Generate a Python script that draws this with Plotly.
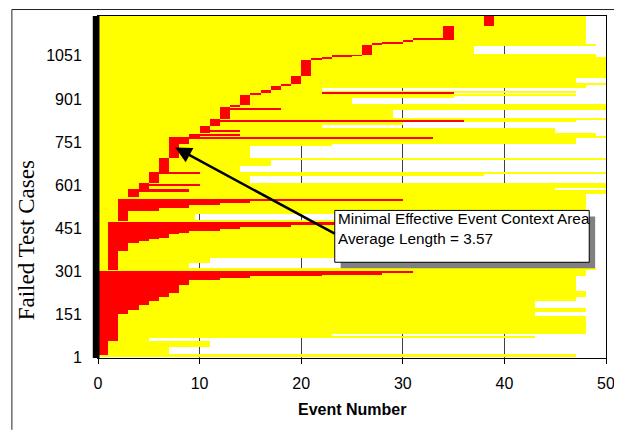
import plotly.graph_objects as go

# ---------------- data ----------------
# Yellow bars: whole test case length (events), by bands of failed test cases
yellow_lo = [1, 11, 35, 59, 70, 76, 83, 146, 157, 174, 198, 209, 233, 285, 303, 310, 330, 348,
             480, 501, 512, 571, 585, 592, 609, 633, 640, 647, 668, 689, 696, 738, 745, 766,
             773, 783, 800, 811, 821, 828, 835, 863, 884, 905, 912, 919, 922, 929, 940, 950,
             957, 974, 1047, 1058, 1086, 1093]
yellow_hi = [11, 35, 59, 70, 76, 83, 146, 157, 174, 198, 209, 233, 285, 303, 310, 330, 348, 480,
             501, 512, 571, 585, 592, 609, 633, 640, 647, 668, 689, 696, 738, 745, 766, 773,
             783, 800, 811, 821, 828, 835, 863, 884, 905, 912, 919, 922, 929, 940, 950, 957,
             974, 1047, 1058, 1086, 1093, 1190]
yellow_len = [47, 7, 11, 5, 43, 23, 48, 43, 48, 43, 47, 48, 47, 48, 49, 9, 11, 40,
              9.5, 40, 48, 50, 45, 50, 15, 38, 50, 14, 17, 50, 15, 23, 47, 50,
              49, 45, 22, 30, 47, 50, 29, 50, 25, 35, 47, 22, 47, 22, 48, 50,
              47, 50, 49, 37, 49, 48]

# Red bars: minimal effective event context area (start/end event) per band
red_lo = [8, 59, 150, 167, 184, 198, 212, 223, 251, 271, 278, 284, 290, 296,
          306, 372, 400, 407, 414, 418, 431, 435, 442, 449, 455, 463,
          477, 512, 522, 532, 539, 546,
          560, 580, 588, 600, 609, 640, 647, 696, 745, 760, 764,
          769, 772, 783, 786, 807, 822, 832, 863, 874, 880, 915, 919, 922, 932, 946,
          953, 981, 1037, 1041, 1048, 1051, 1054, 1090, 1094, 1098, 1107, 1106, 1155]
red_hi = [59, 150, 167, 184, 198, 212, 223, 251, 271, 278, 284, 290, 296, 302,
          372, 400, 407, 414, 418, 431, 435, 442, 449, 455, 463, 473,
          512, 522, 532, 539, 546, 553,
          588, 586, 609, 604, 647, 644, 696, 745, 760, 769, 769,
          779, 776, 807, 792, 832, 827, 873, 868, 880, 915, 922, 922, 932, 946, 953,
          981, 1037, 1041, 1048, 1051, 1054, 1090, 1094, 1098, 1107, 1110, 1155, 1190]
red_start = [0, 0, 0, 0, 0, 0, 0, 0, 0, 0, 0, 0, 0, 0,
             1, 1, 1, 1, 1, 1, 1, 1, 1, 1, 1, 1,
             2, 2, 2, 2, 2, 2,
             3, 3, 4, 4, 5, 5, 6, 7, 7, 7, 7,
             9, 9, 10, 10, 11, 11, 12, 12, 13, 14, 15, 22, 16, 17, 18,
             19, 20, 21, 22, 23, 25, 26, 27, 28, 30, 31, 34, 38]
red_end = [1, 2, 3, 4, 5, 6, 7, 8, 9, 12, 15, 22, 28, 31,
           2, 3, 4, 5, 6, 7, 8, 9, 12, 14, 19, 26,
           3, 6, 9, 12, 15, 30,
           4, 9, 5, 10, 6, 10, 7, 8, 9, 8, 33,
           10, 14, 11, 14, 12, 36, 13, 18, 14, 15, 16, 35, 17, 18, 19,
           20, 21, 22, 23, 25, 26, 27, 28, 30, 31, 34, 35, 39]

x_ticks = [0, 10, 20, 30, 40, 50]
y_ticks = [1, 151, 301, 451, 601, 751, 901, 1051]

note_text = "Minimal Effective Event Context Area<br>Average Length = 3.57"
arrow_tip = (7.6, 732)

# ---------------- figure ----------------
OFF = 8                      # page body margin in the browser
W, H = 622 - OFF, 430 - OFF
ML, MR, MT, MB = 90, 9, 7, 72
PW, PH = W - ML - MR, H - MT - MB


def px(xp):
    """page pixel x -> paper coordinate"""
    return (xp - OFF - ML) / PW


def py(yp):
    """page pixel y -> paper coordinate"""
    return 1 - (yp - OFF - MT) / PH


fig = go.Figure()
fig.add_trace(go.Bar(
    orientation="h",
    y=[(a + b) / 2 for a, b in zip(yellow_lo, yellow_hi)],
    width=[b - a for a, b in zip(yellow_lo, yellow_hi)],
    x=yellow_len, base=[0] * len(yellow_len),
    marker=dict(color="#FFFF00", line=dict(width=0)),
    hoverinfo="skip", showlegend=False))
fig.add_trace(go.Bar(
    orientation="h",
    y=[(a + b) / 2 for a, b in zip(red_lo, red_hi)],
    width=[b - a for a, b in zip(red_lo, red_hi)],
    x=[e - s for s, e in zip(red_start, red_end)], base=red_start,
    marker=dict(color="#FF0000", line=dict(width=0)),
    hoverinfo="skip", showlegend=False))

tick_font = dict(family="Liberation Sans, Arial", size=16, color="black")
fig.update_layout(
    width=W, height=H, margin=dict(l=ML, r=MR, t=MT, b=MB),
    paper_bgcolor="white", plot_bgcolor="white", barmode="overlay",
    bargap=0,
    xaxis=dict(range=[0, 50], tickvals=x_ticks, ticks="outside", ticklen=5,
               tickcolor="black", showline=True, linecolor="black", linewidth=1,
               mirror=True, showgrid=True, gridcolor="#404040", gridwidth=1,
               zeroline=False, tickfont=tick_font, ticklabelstandoff=6),
    yaxis=dict(range=[-2, 1190], tickvals=y_ticks, ticks="", showline=True,
               linecolor="black", linewidth=1, mirror=True, showgrid=False,
               zeroline=False, tickfont=tick_font, ticklabelstandoff=12),
    shapes=[
        # thick black left bar
        dict(type="rect", xref="paper", yref="paper", x0=px(92.7), x1=px(99.5), y0=0, y1=1,
             fillcolor="black", line=dict(width=0), layer="above"),
        # note shadow and box
        dict(type="rect", xref="paper", yref="paper", x0=px(344), x1=px(602), y0=py(268), y1=py(216),
             fillcolor="#808080", line=dict(width=0), layer="above"),
        dict(type="rect", xref="paper", yref="paper", x0=px(338), x1=px(596), y0=py(262), y1=py(210),
             fillcolor="white", line=dict(color="black", width=1), layer="above"),
        # outer page frame
        dict(type="line", xref="paper", yref="paper", x0=px(10.7), x1=px(622), y0=py(8.5), y1=py(8.5),
             line=dict(color="#222222", width=1)),
        dict(type="line", xref="paper", yref="paper", x0=px(10.7), x1=px(10.7), y0=py(8.5), y1=py(430),
             line=dict(color="#222222", width=1)),
    ],
    annotations=[
        dict(text="Failed Test Cases", xref="paper", yref="paper", x=px(25), y=py(240),
             textangle=-90, showarrow=False, xanchor="center", yanchor="middle",
             font=dict(family="Liberation Serif, Times New Roman", size=23, color="black")),
        dict(text="<b>Event Number</b>", xref="paper", yref="paper", x=px(356), y=py(410),
             showarrow=False, xanchor="center", yanchor="middle",
             font=dict(family="Liberation Sans, Arial", size=16, color="black")),
        dict(text=note_text, xref="paper", yref="paper", x=px(340), y=py(209),
             showarrow=False, xanchor="left", yanchor="top", align="left", borderpad=0,
             font=dict(family="Liberation Sans, Arial", size=15.3, color="black")),
        dict(text="", x=arrow_tip[0], y=arrow_tip[1], xref="x", yref="y",
             showarrow=True, ax=161, ay=87, axref="pixel", ayref="pixel",
             arrowhead=2, arrowsize=1.3, arrowwidth=2.5, arrowcolor="black", standoff=0),
    ],
)

fig.write_html("out.html")
